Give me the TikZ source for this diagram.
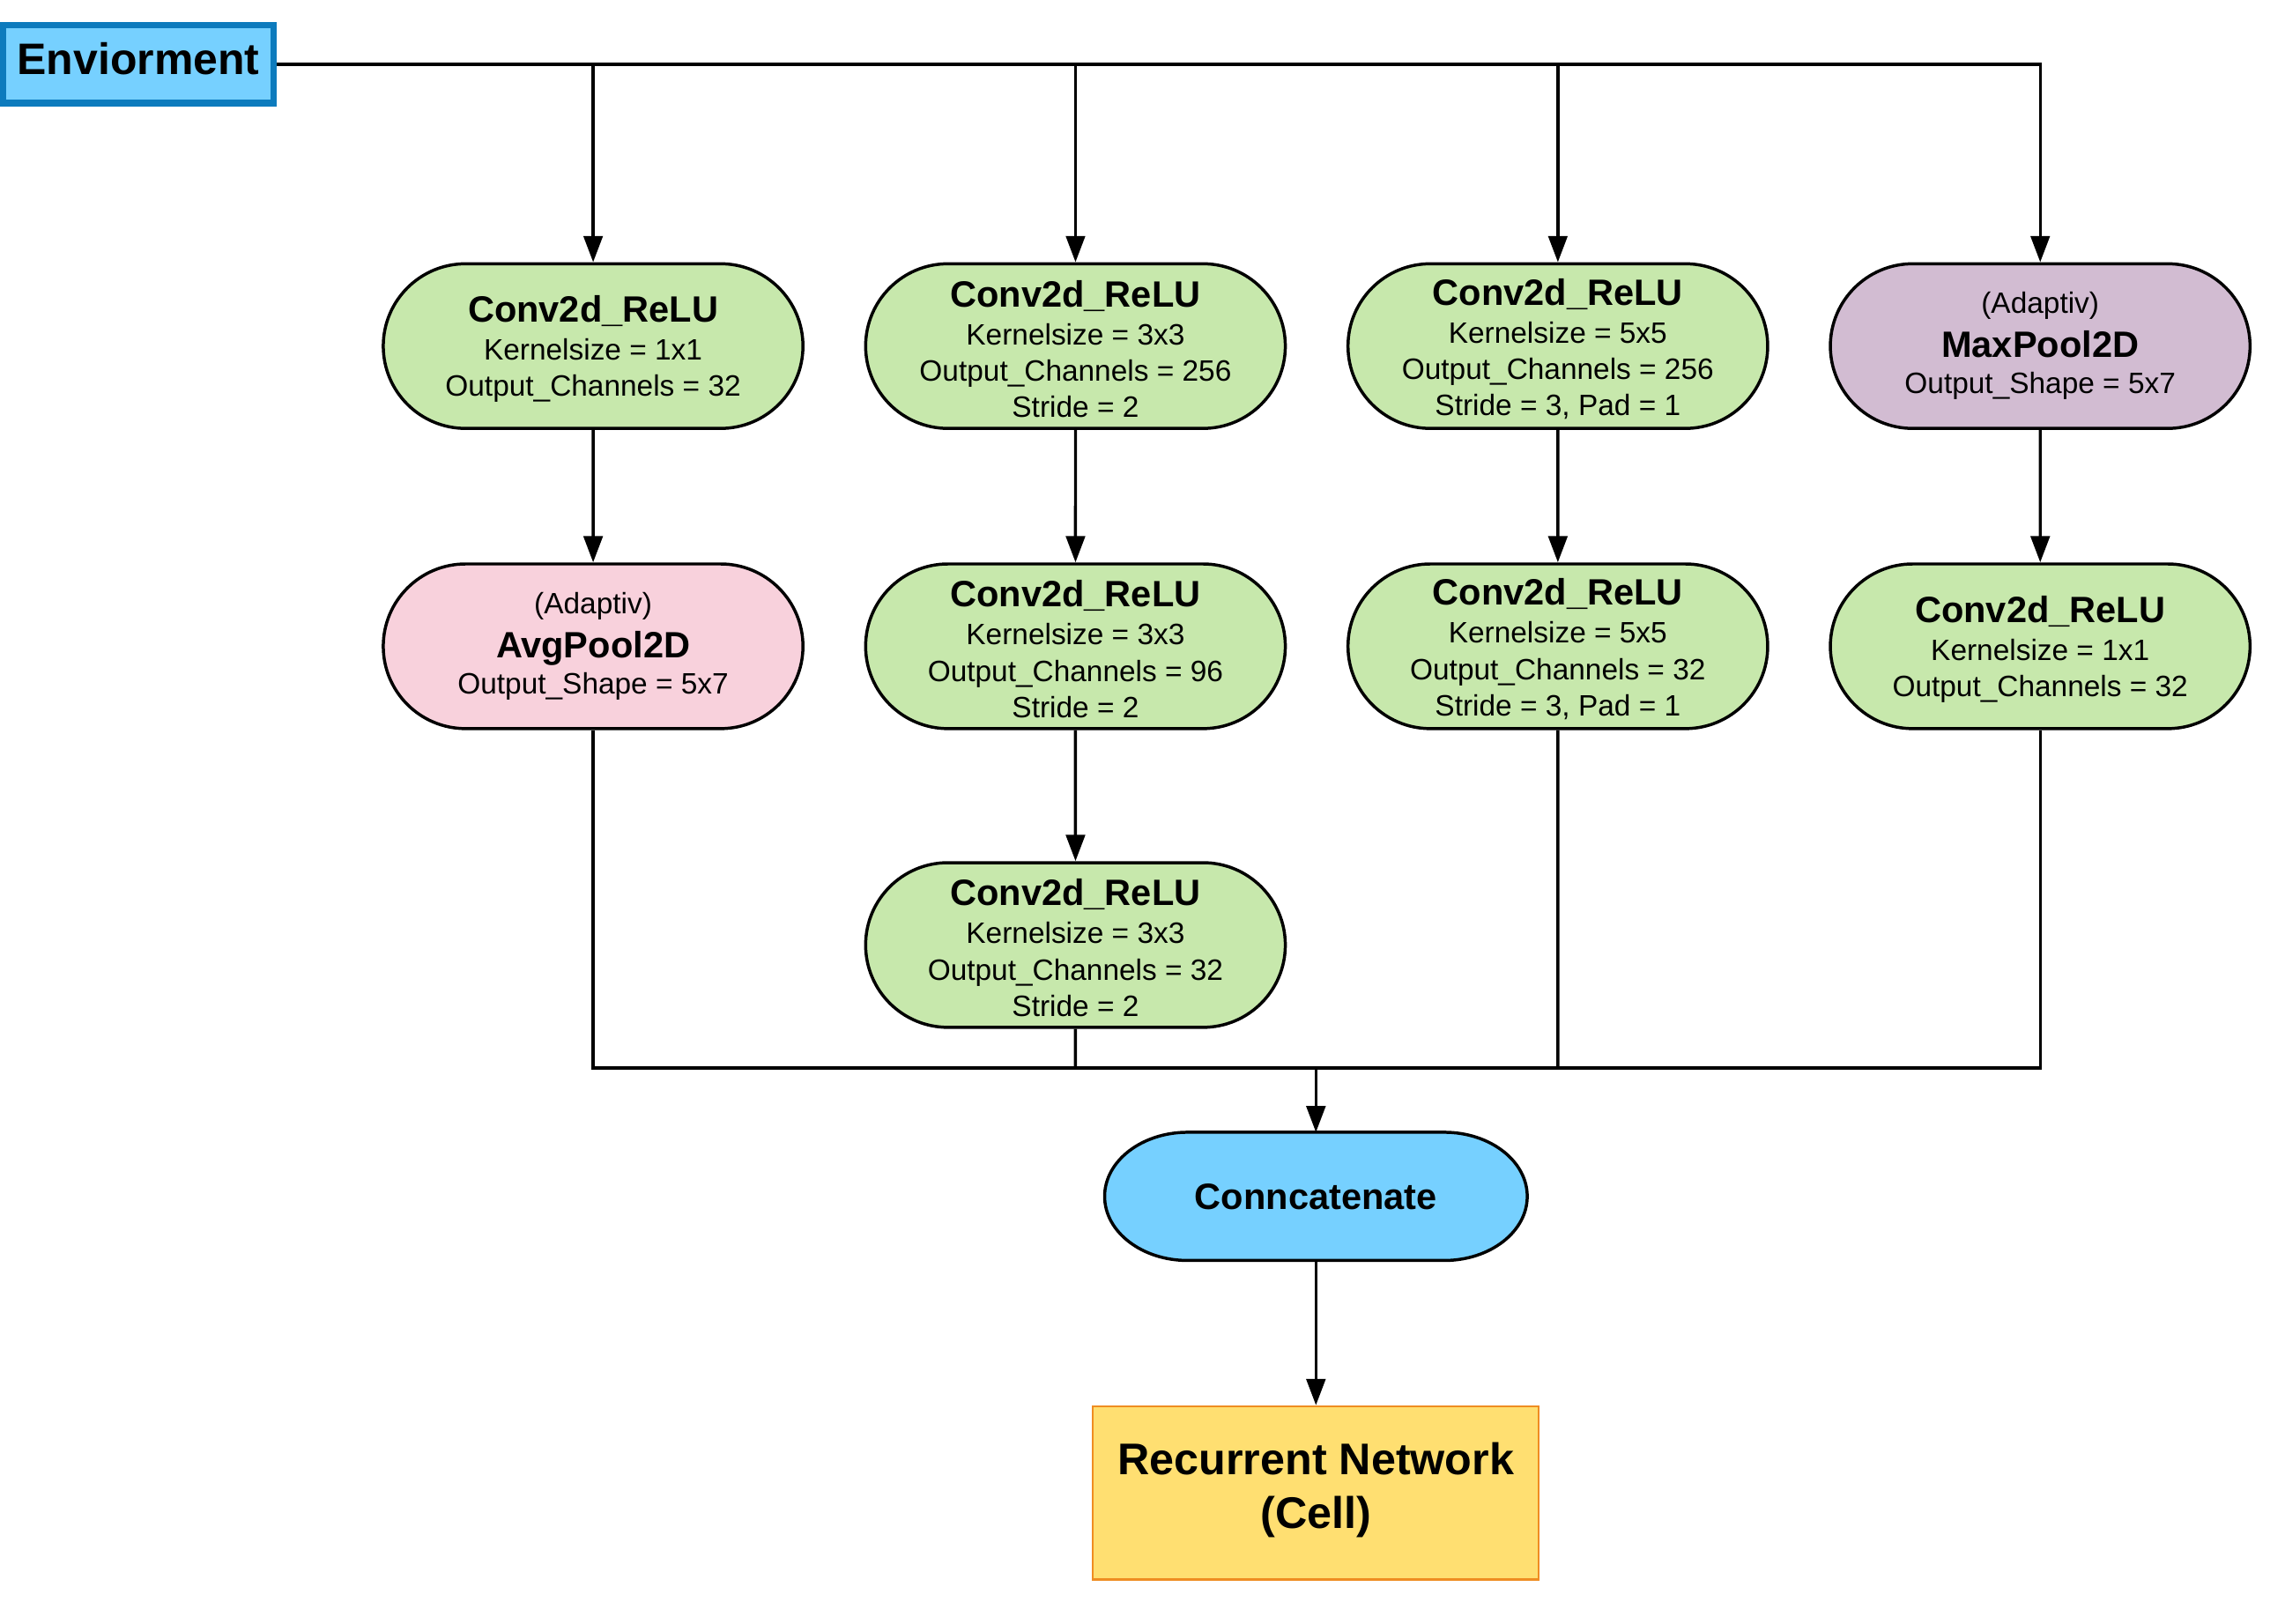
\documentclass[tikz,border=0pt]{standalone}
\usepackage{fontspec}
\setmainfont{Liberation Sans}
\usetikzlibrary{arrows.meta,shapes.misc,backgrounds}
\definecolor{convgreen}{HTML}{C7E8AC}
\definecolor{avgpink}{HTML}{F8D1DC}
\definecolor{maxpurple}{HTML}{D2BCD2}
\definecolor{envfill}{HTML}{76D0FF}
\definecolor{envline}{HTML}{0D7BBD}
\definecolor{rnnfill}{HTML}{FFDF71}
\definecolor{rnnline}{HTML}{EF8D22}
\newcommand{\lyrname}[1]{{\fontsize{14.3}{17}\selectfont\bfseries\rule{0pt}{12.7pt}#1}}
\begin{document}
\begin{tikzpicture}[
    font=\fontsize{11.5}{14.2}\selectfont,
    layer/.style={rounded rectangle, draw, line width=1.2pt, align=center,
      inner sep=0pt, minimum width=5.76cm, minimum height=2.26cm},
    conv/.style={layer, fill=convgreen},
    avgpool/.style={layer, fill=avgpink},
    maxpool/.style={layer, fill=maxpurple},
    link/.style={line width=1.2pt},
    flow/.style={link, -{Triangle[length=3.6mm,width=2.6mm]}}
  ]
      \useasboundingbox (0,0) rectangle (31.36,-22.28);
      \draw
        (1.9,-0.88) node[draw=envline, fill=envfill, line width=2.6pt,
          minimum width=3.71cm, minimum height=1.07cm,
          font=\fontsize{17.2}{20}\selectfont\bfseries]
          (env){Enviorment\rule[-4.6pt]{0pt}{0pt}}
        (8.14,-4.75) node[conv] (c1a){\lyrname{Conv2d\_ReLU}\\[0.6pt]
          Kernelsize = 1x1\\Output\_Channels = 32}
        (8.14,-8.87) node[avgpool] (pool1){(Adaptiv)\\[2.9pt]
          {\fontsize{14.3}{17}\selectfont\bfseries AvgPool2D}\\[0pt]
          Output\_Shape = 5x7}
        (14.76,-4.75) node[conv] (c2a){\lyrname{Conv2d\_ReLU}\\[0.6pt]
          Kernelsize = 3x3\\Output\_Channels = 256\\Stride = 2}
        (14.76,-8.87) node[conv] (c2b){\lyrname{Conv2d\_ReLU}\\[0.6pt]
          Kernelsize = 3x3\\Output\_Channels = 96\\Stride = 2}
        (14.76,-12.97) node[conv] (c2c){\lyrname{Conv2d\_ReLU}\\[0.6pt]
          Kernelsize = 3x3\\Output\_Channels = 32\\Stride = 2}
        (21.38,-4.75) node[conv] (c3a){\lyrname{Conv2d\_ReLU}\\[0.6pt]
          Kernelsize = 5x5\\Output\_Channels = 256\\Stride = 3, Pad = 1}
        (21.38,-8.87) node[conv] (c3b){\lyrname{Conv2d\_ReLU}\\[0.6pt]
          Kernelsize = 5x5\\Output\_Channels = 32\\Stride = 3, Pad = 1}
        (28.0,-4.75) node[maxpool] (pool4){(Adaptiv)\\[2.9pt]
          {\fontsize{14.3}{17}\selectfont\bfseries MaxPool2D}\\[0pt]
          Output\_Shape = 5x7}
        (28.0,-8.87) node[conv] (c4b){\lyrname{Conv2d\_ReLU}\\[0.6pt]
          Kernelsize = 1x1\\Output\_Channels = 32}
        (18.06,-16.42) node[minimum width=5.8cm, minimum height=1.76cm,
          outer sep=0pt, font=\fontsize{14.3}{17}\selectfont\bfseries]
          (concat){Conncatenate}
        (18.06,-20.49) node[draw=rnnline, fill=rnnfill, line width=0.8pt,
          minimum width=6.12cm, minimum height=2.38cm, align=center,
          font=\fontsize{17.3}{21}\selectfont\bfseries]
          (rnn){Recurrent Network\\(Cell)\rule[-5.9pt]{0pt}{0pt}};
      \begin{scope}[on background layer]
        \draw[fill=envfill, line width=1.2pt, line join=round]
          (concat.center) ++(-1.76,0.88) -- ++(3.52,0)
          arc[start angle=90, end angle=-90, x radius=1.14, y radius=0.88]
          -- ++(-3.52,0)
          arc[start angle=270, end angle=90, x radius=1.14, y radius=0.88]
          -- cycle;
      \end{scope}
      \coordinate (join) at (18.06,-14.66);
      \begin{scope}[flow]
        \draw (env) -| (c1a);
        \draw (env) -| (c2a);
        \draw (env) -| (c3a);
        \draw (env) -| (pool4);
        \draw (c1a) to (pool1);
        \draw (c2a) to (c2b);
        \draw (c2b) to (c2c);
        \draw (c3a) to (c3b);
        \draw (pool4) to (c4b);
        \draw (join) to (concat);
        \draw (concat) to (rnn);
      \end{scope}
      \begin{scope}[link]
        \draw (pool1) |- (join);
        \draw (c4b) |- (join);
        \draw (c2c) to (c2c |- join);
        \draw (c3b) to (c3b |- join);
      \end{scope}
    \end{tikzpicture}
\end{document}
